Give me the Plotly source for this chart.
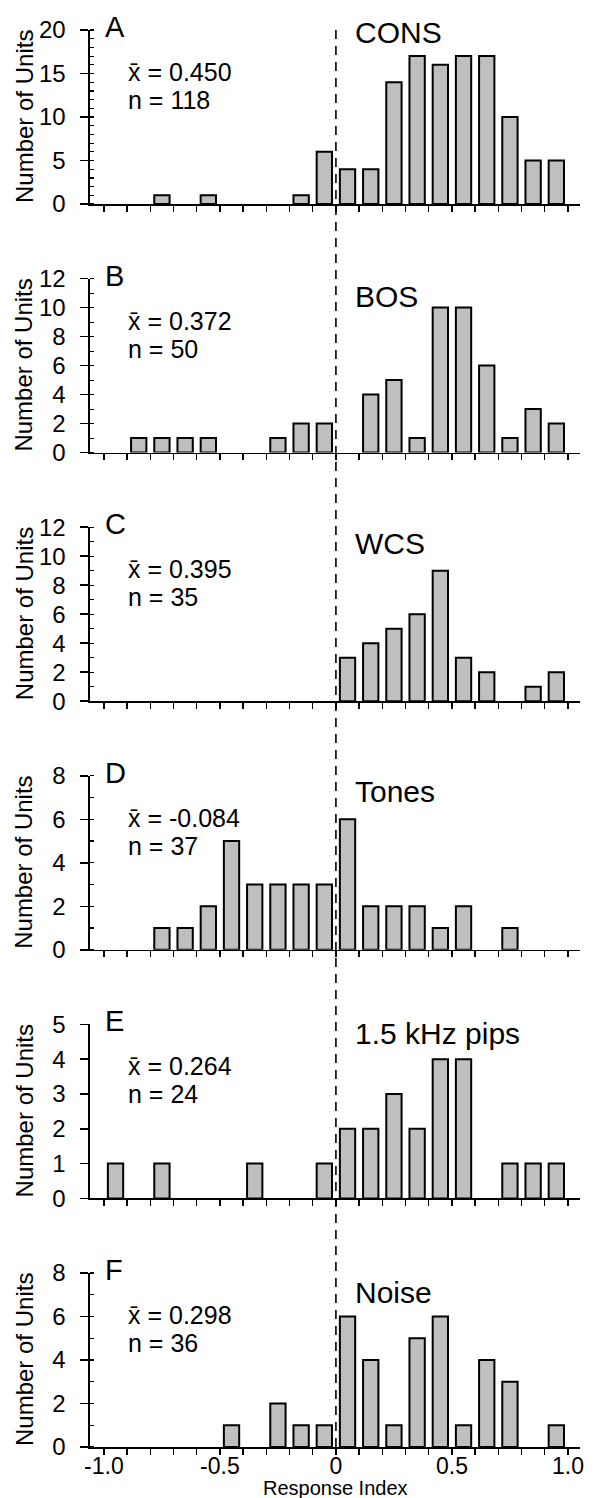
import plotly.graph_objects as go

# ---------------- data ----------------
bin_centers = [-0.95, -0.85, -0.75, -0.65, -0.55, -0.45, -0.35, -0.25, -0.15, -0.05,
               0.05, 0.15, 0.25, 0.35, 0.45, 0.55, 0.65, 0.75, 0.85, 0.95]

counts_A = [0, 0, 1, 0, 1, 0, 0, 0, 1, 6, 4, 4, 14, 17, 16, 17, 17, 10, 5, 5]
counts_B = [0, 1, 1, 1, 1, 0, 0, 1, 2, 2, 0, 4, 5, 1, 10, 10, 6, 1, 3, 2]
counts_C = [0, 0, 0, 0, 0, 0, 0, 0, 0, 0, 3, 4, 5, 6, 9, 3, 2, 0, 1, 2]
counts_D = [0, 0, 1, 1, 2, 5, 3, 3, 3, 3, 6, 2, 2, 2, 1, 2, 0, 1, 0, 0]
counts_E = [1, 0, 1, 0, 0, 0, 1, 0, 0, 1, 2, 2, 3, 2, 4, 4, 0, 1, 1, 1]
counts_F = [0, 0, 0, 0, 0, 1, 0, 2, 1, 1, 6, 4, 1, 5, 6, 1, 4, 3, 0, 1]

all_counts = [counts_A, counts_B, counts_C, counts_D, counts_E, counts_F]
panel_letters = ["A", "B", "C", "D", "E", "F"]
stimuli = ["CONS", "BOS", "WCS", "Tones", "1.5 kHz pips", "Noise"]
means = ["0.450", "0.372", "0.395", "-0.084", "0.264", "0.298"]
ns = ["118", "50", "35", "37", "24", "36"]
y_max = [20, 12, 12, 8, 5, 8]
y_dtick = [5, 2, 2, 2, 1, 2]
y_minor = [1, 1, 1, 1, None, 1]

x_tick_vals = [-1.0, -0.9, -0.8, -0.7, -0.6, -0.5, -0.4, -0.3, -0.2, -0.1, 0.0,
               0.1, 0.2, 0.3, 0.4, 0.5, 0.6, 0.7, 0.8, 0.9, 1.0]
x_tick_text = ["-1.0", "", "", "", "", "-0.5", "", "", "", "", "0",
               "", "", "", "", "0.5", "", "", "", "", "1.0"]

# ---------------- layout geometry (pixels) ----------------
W, H = 598, 1498
M_L, M_R, M_T, M_B = 90, 18, 30, 51
plot_h = H - M_T - M_B
axis_bottom_px = H - M_B  # bottom of last panel
panel_h = 174
panel_step = 248.6
first_bottom = 204

stim_offsets = [2, 18, 16, 16, 9, 19]
FONT = "Liberation Sans, Arial, Helvetica, sans-serif"

fig = go.Figure()
layout = dict(
    template="none",
    width=W, height=H, autosize=False,
    margin=dict(l=M_L, r=M_R, t=M_T, b=M_B, autoexpand=False),
    paper_bgcolor="white", plot_bgcolor="white",
    showlegend=False,
    font=dict(family=FONT, color="black", size=24),
)
annotations = []

for k in range(6):
    idx = "" if k == 0 else str(k + 1)
    xa, ya = "x" + idx, "y" + idx
    bottom_px = first_bottom + panel_step * k
    d0 = (axis_bottom_px - bottom_px) / plot_h
    d1 = (axis_bottom_px - bottom_px + panel_h) / plot_h

    fig.add_trace(go.Bar(
        x=bin_centers, y=[v if v else None for v in all_counts[k]],
        xaxis=xa, yaxis=ya,
        width=0.066,
        marker=dict(
            color="#c0c0c0",
            line=dict(color="black", width=2),
            pattern=dict(shape=".", size=2, solidity=0.3,
                         fgcolor="#666666", bgcolor="#dadada", fillmode="replace"),
        ),
        hoverinfo="skip",
    ))

    last = (k == 5)
    layout["xaxis" + idx] = dict(
        domain=[0, 1], anchor=ya, range=[-1.06, 1.052], automargin=False,
        showline=True, linecolor="black", linewidth=1.6,
        ticks="outside", ticklen=6, tickwidth=1.5, tickcolor="black",
        tickmode="array", tickvals=x_tick_vals,
        ticktext=x_tick_text if last else [""] * len(x_tick_vals),
        showticklabels=last, ticklabelstandoff=-8,
        tickfont=dict(size=23),
        showgrid=False, zeroline=False, fixedrange=True,
    )
    yax = dict(
        domain=[d0, d1], anchor=xa, range=[0, y_max[k]], automargin=False,
        showline=True, linecolor="black", linewidth=1.6,
        ticks="outside", ticklen=8, tickwidth=1.5, tickcolor="black",
        tickmode="linear", tick0=0, dtick=y_dtick[k], ticklabelstandoff=10,
        tickfont=dict(size=24),
        showgrid=False, zeroline=False, fixedrange=True,
    )
    if y_minor[k] is not None:
        yax["minor"] = dict(dtick=y_minor[k], tick0=0, ticks="inside", ticklen=4,
                            tickwidth=1.2, tickcolor="black", showgrid=False)
    layout["yaxis" + idx] = yax

    dom = ya + " domain"
    annotations += [
        dict(text=panel_letters[k], xref=xa, x=-1.004, xanchor="left",
             yref=dom, y=1, yshift=3, yanchor="middle", showarrow=False,
             font=dict(size=29)),
        dict(text=stimuli[k], xref=xa, x=0.073, xanchor="left",
             yref=dom, y=1, yshift=-stim_offsets[k], yanchor="middle",
             showarrow=False, font=dict(size=30)),
        dict(text="x\u0304 = " + means[k], xref=xa, x=-0.905, xanchor="left",
             yref=dom, y=1, yshift=-42, yanchor="middle", showarrow=False,
             font=dict(size=25)),
        dict(text="n = " + ns[k], xref=xa, x=-0.905, xanchor="left",
             yref=dom, y=1, yshift=-70, yanchor="middle", showarrow=False,
             font=dict(size=25)),
        dict(text="Number of Units", xref="paper", x=(24 - M_L) / (W - M_L - M_R),
             xanchor="center", yref=dom, y=0.5, yanchor="middle",
             textangle=-90, showarrow=False, font=dict(size=24)),
    ]

annotations.append(dict(text="Response Index", xref="x6", x=0, xanchor="center",
                        yref="y6 domain", y=0, yshift=-41, yanchor="middle",
                        showarrow=False, font=dict(size=20)))

layout["annotations"] = annotations
layout["shapes"] = [dict(type="line", xref="x6", x0=0, x1=0, yref="paper",
                         y0=0, y1=(axis_bottom_px - 28) / plot_h,
                         line=dict(color="black", width=1.6, dash="9px,7px"),
                         layer="above")]
fig.update_layout(**layout)
fig.write_html("out.html",
               config={"displayModeBar": False, "staticPlot": True},
               post_script="document.body.style.margin='0px';"
                           "document.body.style.overflow='hidden';")
